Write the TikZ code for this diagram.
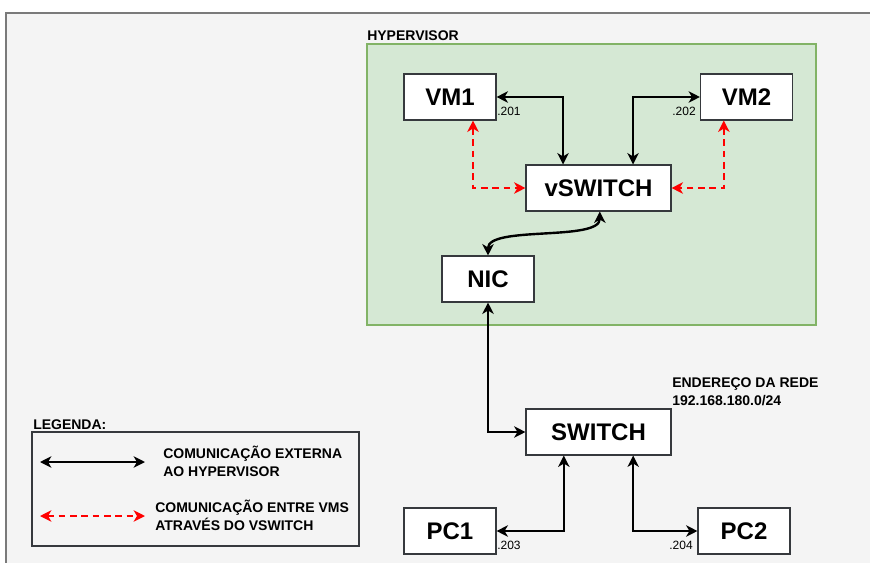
\documentclass[tikz,border=0pt]{standalone}
\usepackage{fontspec}
\setmainfont{Liberation Sans}
\usetikzlibrary{arrows.meta}
\definecolor{bgray}{HTML}{F4F4F4}
\definecolor{framegray}{HTML}{7A7A7A}
\definecolor{hvfill}{HTML}{D5E8D4}
\definecolor{hvline}{HTML}{82B366}
\definecolor{boxline}{HTML}{36393D}

\begin{document}
\begin{tikzpicture}[x=0.75pt, y=-0.75pt, >={Stealth[length=8.5pt,width=8.5pt,inset=2.5pt]},
    every node/.style={font=\bfseries\fontsize{10.5}{13.5}\selectfont},
    box/.style={draw=boxline, fill=white, line width=0.8pt, minimum width=69pt,
      minimum height=34.5pt, font=\bfseries\fontsize{18}{20}\selectfont},
    widebox/.style={box, minimum width=108.75pt},
    ext/.style={<->, line width=1.8pt},
    vms/.style={<->, line width=1.5pt, red, dash pattern=on 5pt off 3.5pt},
    ip/.style={font=\fontsize{9}{10}\selectfont, inner sep=0pt}]
  \useasboundingbox (0,0) rectangle (870,563);
  \fill[bgray] (6,13) rectangle (870,563);
  \draw[framegray, line width=1pt] (6,563) |- (870,13);

  \node[draw=hvline, fill=hvfill, line width=0.8pt, inner sep=0pt,
    minimum width=336.75pt, minimum height=210.75pt] (hv) at (591.5,184.5) {};
  \node[anchor=base west, inner sep=0pt] (hvlabel) at (367,41) {HYPERVISOR};

  \node[box] (vm1) at (450,97) {VM1};
  \node[box] (vm2) at (746.5,97) {VM2};
  \node[widebox] (vsw) at (598.5,188) {vSWITCH};
  \node[box] (nic) at (488,279) {NIC};
  \node[widebox] (sw) at (598.5,432) {SWITCH};
  \node[box] (pc1) at (450,531) {PC1};
  \node[box] (pc2) at (744,531) {PC2};

  \node[ip, anchor=base west] (ip1) at (497,116) {.201};
  \node[ip, anchor=base east] (ip2) at (696,116) {.202};
  \node[ip, anchor=base west] (ip3) at (497,549) {.203};
  \node[ip, anchor=base east] (ip4) at (693,549) {.204};

  \node[anchor=base west, inner sep=0pt, align=left] (net) at (672,405)
    {ENDEREÇO DA REDE\\192.168.180.0/24};

  \draw[ext] (vm1.east) -| ([xshift=-26.6pt]vsw.north);
  \draw[ext] (vm2.west) -| ([xshift=25.9pt]vsw.north);
  \draw[vms] ([xshift=17.25pt]vm1.south) |- (vsw.west);
  \draw[vms] ([xshift=-17pt]vm2.south) |- (vsw.east);
  \draw[ext] (nic.north) .. controls +(0,-30) and +(0,30) .. ([xshift=1pt]vsw.south);
  \draw[ext] (nic.south) |- (sw.west);
  \draw[ext] ([xshift=-26pt]sw.south) |- (pc1.east);
  \draw[ext] ([xshift=26pt]sw.south) |- (pc2.west);

  \node[anchor=base west, inner sep=0pt] (leglabel) at (33,429) {LEGENDA:};
  \node[draw=boxline, line width=0.8pt, inner sep=0pt, minimum width=245.25pt,
    minimum height=85.5pt] (legbox) at (195.5,489) {};
  \coordinate (exta) at (40,462);
  \coordinate (extb) at (145,462);
  \coordinate (vmsa) at (40,516);
  \coordinate (vmsb) at (145,516);
  \draw[ext] (exta) -- (extb);
  \draw[vms] (vmsa) -- (vmsb);
  \node[anchor=base west, inner sep=0pt, align=left] (exttext) at (163,476)
    {COMUNICAÇÃO EXTERNA\\AO HYPERVISOR};
  \node[anchor=base west, inner sep=0pt, align=left] (vmstext) at (155,530)
    {COMUNICAÇÃO ENTRE VMS\\ATRAVÉS DO VSWITCH};
\end{tikzpicture}
\end{document}
